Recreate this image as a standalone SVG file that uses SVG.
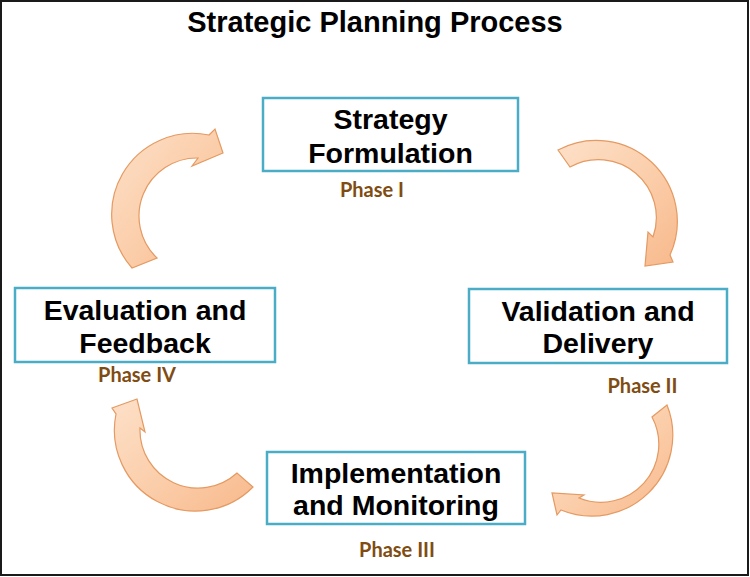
<svg xmlns="http://www.w3.org/2000/svg" width="750" height="577" viewBox="0 0 750 577">
<defs>
<linearGradient id="peach" x1="0" y1="0" x2="1" y2="1">
<stop offset="0" stop-color="#fde0c8"/>
<stop offset="0.5" stop-color="#fbcfac"/>
<stop offset="1" stop-color="#f8b98c"/>
</linearGradient>
<style>
.box{fill:#ffffff;stroke:#4bacc6;stroke-width:2.5}
.lbl{font-family:"Liberation Sans",Arial,sans-serif;font-weight:bold;font-size:28.5px;fill:#000;text-anchor:middle}
.ph{font-family:Lato,"Open Sans",sans-serif;font-weight:bold;font-size:20px;fill:#7f4c12;text-anchor:middle}
.arr{fill:url(#peach);stroke:#e49a62;stroke-width:1.2;stroke-linejoin:miter}
.title{font-family:"Liberation Sans",Arial,sans-serif;font-weight:bold;font-size:29px;fill:#000;text-anchor:middle}
</style>
</defs>
<rect x="1" y="1" width="747" height="574" fill="#ffffff" stroke="#1a1a1a" stroke-width="2"/>
<text class="title" x="375" y="32">Strategic Planning Process</text>
<g id="connectors">
<path class="arr" d="M132,268 A81,81 0 0 1 209,135 L215,129 L223,153 L192,166 L198,158 A58,58 0 0 0 157,258 Z"/>
<path class="arr" d="M558,150 A81,81 0 0 1 670,255 L673,262 L645,266 L648,232 L653,237 A58,58 0 0 0 570,167 Z"/>
<path class="arr" d="M667,405 A81,81 0 0 1 561,510 L557,515 L552,493 L584,495 L579,498 A58,58 0 0 0 652,417 Z"/>
<path class="arr" d="M253,487 A81,81 0 0 1 116,414 L112,408 L137,399 L145,432 L140,428 A58,58 0 0 0 237,473 Z"/>
</g>
<g id="strategy">
<rect class="box" x="263" y="98" width="255" height="73"/>
<text class="lbl" x="390.5" y="129">Strategy</text>
<text class="lbl" x="390.5" y="163">Formulation</text>
<text class="ph" x="372" y="197">Phase I</text>
</g>
<g id="validation">
<rect class="box" x="469" y="289" width="258" height="74"/>
<text class="lbl" x="598" y="321">Validation and</text>
<text class="lbl" x="598" y="353">Delivery</text>
<text class="ph" x="642.5" y="393">Phase II</text>
</g>
<g id="implementation">
<rect class="box" x="267" y="452" width="258" height="72"/>
<text class="lbl" x="396" y="483">Implementation</text>
<text class="lbl" x="396" y="515">and Monitoring</text>
<text class="ph" x="397" y="557">Phase III</text>
</g>
<g id="evaluation">
<rect class="box" x="15" y="288" width="260" height="74"/>
<text class="lbl" x="145" y="320">Evaluation and</text>
<text class="lbl" x="145" y="353">Feedback</text>
<text class="ph" x="137" y="382">Phase IV</text>
</g>
</svg>
